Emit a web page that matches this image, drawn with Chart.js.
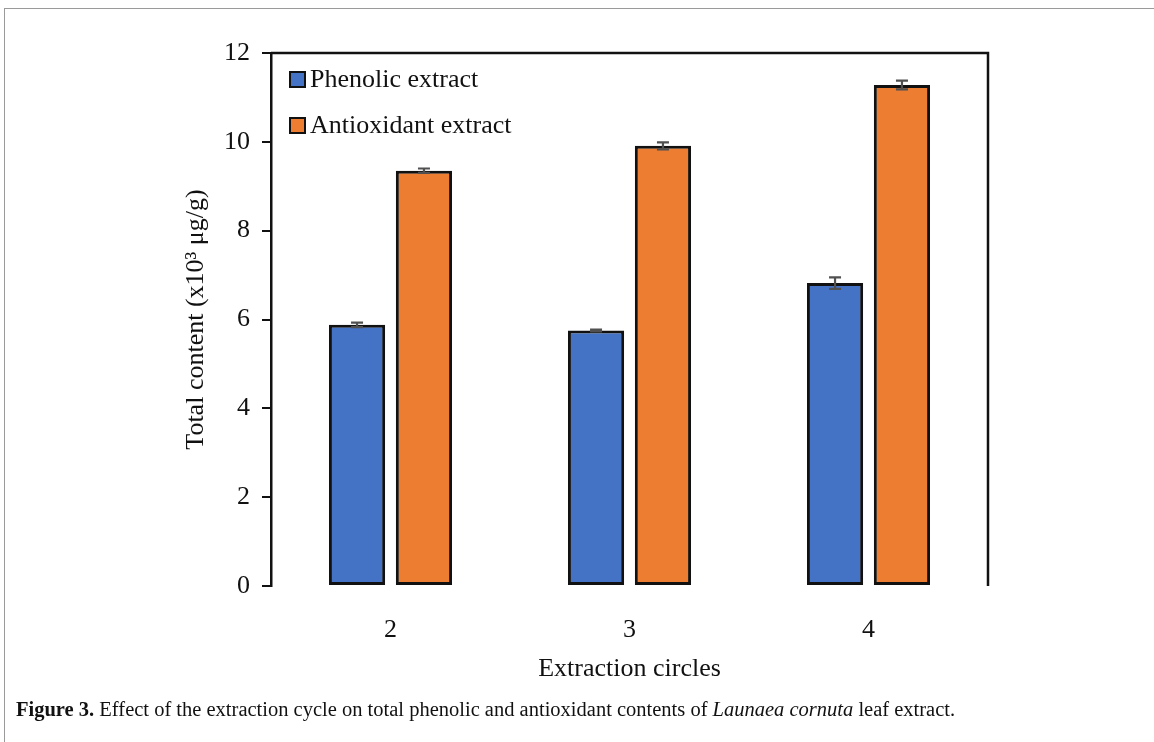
<!DOCTYPE html>
<html>
<head>
<meta charset="utf-8">
<script src="https://cdn.jsdelivr.net/npm/chart.js@4.4.1/dist/chart.umd.min.js"></script>
<style>
  html, body { margin: 0; padding: 0; background: #fff; }
  #wrap { position: relative; width: 1154px; height: 742px; overflow: hidden; }
  #frame { position: absolute; left: 4px; top: 8px; width: 1160px; height: 760px; border-left: 1px solid #9a9a9a; border-top: 1px solid #9a9a9a; }
  #c { position: absolute; left: 0; top: 0; }
  #caption { position: absolute; left: 16px; top: 698px; font-family: "Liberation Serif", serif; font-size: 20.5px; color: #111; white-space: nowrap; letter-spacing: 0px; }
</style>
</head>
<body>
<div id="wrap">
  <div id="frame"></div>
  <canvas id="c" width="1154" height="700"></canvas>
  <div id="caption"><b>Figure 3.</b> Effect of the extraction cycle on total phenolic and antioxidant contents of <i>Launaea cornuta</i> leaf extract.</div>
</div>
<script>
const categories = ['2', '3', '4'];
const phenolic = [5.88, 5.75, 6.82];
const phenolicErr = [0.05, 0.02, 0.13];
const antioxidant = [9.35, 9.91, 11.28];
const antioxidantErr = [0.05, 0.08, 0.10];
const seriesLabels = ['Phenolic extract', 'Antioxidant extract'];
const yTicks = [0, 2, 4, 6, 8, 10, 12];

const FONT = 'Liberation Serif';

const errorBars = {
  id: 'errorBars',
  afterDatasetsDraw(chart) {
    const ctx = chart.ctx;
    const y = chart.scales.y;
    chart.data.datasets.forEach((ds, di) => {
      const meta = chart.getDatasetMeta(di);
      meta.data.forEach((bar, i) => {
        const v = ds.data[i], e = ds.errors[i];
        const yt = y.getPixelForValue(v + e), yb = y.getPixelForValue(v - e);
        const x = bar.x, cap = 6;
        ctx.save();
        ctx.strokeStyle = '#505050';
        ctx.lineWidth = 2.2;
        ctx.beginPath();
        ctx.moveTo(x, yt); ctx.lineTo(x, yb);
        ctx.moveTo(x - cap, yt); ctx.lineTo(x + cap, yt);
        ctx.moveTo(x - cap, yb); ctx.lineTo(x + cap, yb);
        ctx.stroke();
        ctx.restore();
      });
    });
  }
};

const frameAndLegend = {
  id: 'frameAndLegend',
  afterDraw(chart) {
    const ctx = chart.ctx;
    const a = chart.chartArea;
    ctx.save();
    ctx.strokeStyle = '#111';
    ctx.lineWidth = 2.5;
    ctx.beginPath();
    ctx.moveTo(a.left, a.top); ctx.lineTo(a.right, a.top); ctx.lineTo(a.right, a.bottom);
    ctx.stroke();
    // legend
    const lx = a.left + 19, ly0 = a.top + 26, dy = 46;
    ctx.font = '26px "' + FONT + '"';
    ctx.textBaseline = 'middle';
    ctx.textAlign = 'left';
    chart.data.datasets.forEach((ds, i) => {
      const cy = ly0 + i * dy;
      ctx.fillStyle = ds.backgroundColor;
      ctx.fillRect(lx, cy - 7, 15, 15);
      ctx.strokeStyle = '#111';
      ctx.lineWidth = 2;
      ctx.strokeRect(lx, cy - 7, 15, 15);
      ctx.fillStyle = '#111';
      ctx.fillText(ds.label, lx + 20, cy + 1);
    });
    ctx.restore();
  }
};

new Chart(document.getElementById('c'), {
  type: 'bar',
  data: {
    labels: categories,
    datasets: [
      { label: seriesLabels[0], data: phenolic, errors: phenolicErr, backgroundColor: '#4472C4', borderColor: '#111', borderWidth: 3, borderSkipped: false },
      { label: seriesLabels[1], data: antioxidant, errors: antioxidantErr, backgroundColor: '#ED7D31', borderColor: '#111', borderWidth: 3, borderSkipped: false }
    ]
  },
  options: {
    responsive: false,
    animation: false,
    devicePixelRatio: 1,
    categoryPercentage: 0.56,
    barPercentage: 0.84,
    layout: { padding: { left: 0, right: 166, top: 53, bottom: 0 } },
    plugins: { legend: { display: false }, tooltip: { enabled: false } },
    scales: {
      x: {
        grid: { display: false },
        border: { display: false },
        ticks: { color: '#111', font: { family: FONT, size: 26 }, padding: 21 },
        title: { display: true, text: 'Extraction circles', color: '#111', font: { family: FONT, size: 26 }, padding: { top: 15, bottom: 15 } },
        afterFit(scale) { scale.height = 114; }
      },
      y: {
        min: 0, max: 12,
        afterBuildTicks(scale) { scale.ticks = yTicks.map(v => ({ value: v })); },
        grid: { drawOnChartArea: false, drawTicks: true, tickLength: 9, color: '#111', lineWidth: 2 },
        border: { display: true, color: '#111', width: 2.5 },
        ticks: { color: '#111', font: { family: FONT, size: 26 }, padding: 12 },
        title: { display: true, text: 'Total content (x10³ μg/g)', color: '#111', font: { family: FONT, size: 26 }, padding: { top: 181, bottom: 181 } },
        afterFit(scale) { scale.width = 271; }
      }
    }
  },
  plugins: [errorBars, frameAndLegend]
});
</script>
</body>
</html>
